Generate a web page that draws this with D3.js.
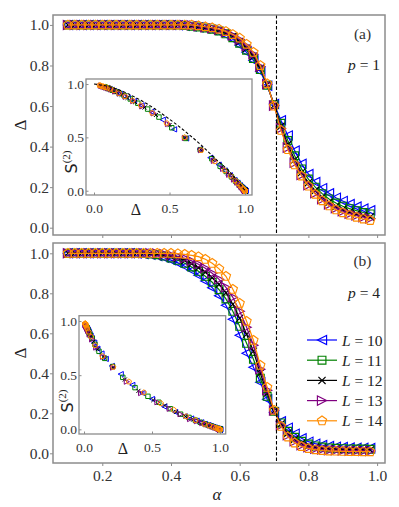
<!DOCTYPE html>
<html><head><meta charset="utf-8">
<script src="https://cdn.jsdelivr.net/npm/d3@7"></script>
<style>body{margin:0;background:#fff}svg{display:block}</style>
</head><body>
<svg id="c" width="399" height="507"></svg>
<script>
// ---------------- DATA ----------------
const alpha = [0.10,0.12,0.14,0.16,0.18,0.20,0.22,0.24,0.26,0.28,0.30,0.32,0.34,0.36,0.38,0.40,0.42,0.44,0.46,0.48,0.50,0.52,0.54,0.56,0.58,0.60,0.62,0.64,0.66,0.68,0.70,0.72,0.74,0.76,0.78,0.80,0.82,0.84,0.86,0.88,0.90,0.92,0.94,0.96,0.98];
const sizes = ["L = 10","L = 11","L = 12","L = 13","L = 14"];
const alphaC = 0.7071;

// panel (a), p = 1 : Delta(alpha)
const deltaA_L10 = [1,1,1,1,1,1,1,1,1,1,1,1,1,1,1,1,0.998,0.996,0.993,0.988,0.982,0.975,0.965,0.95,0.93,0.90,0.865,0.825,0.77,0.70,0.61,0.53,0.455,0.38,0.315,0.265,0.225,0.195,0.17,0.148,0.132,0.117,0.104,0.094,0.086];
const deltaA_L11 = [1,1,1,1,1,1,1,1,1,1,1,1,1,1,1,1,0.999,0.997,0.994,0.99,0.985,0.979,0.97,0.956,0.937,0.91,0.875,0.835,0.78,0.703,0.607,0.515,0.43,0.355,0.29,0.24,0.20,0.168,0.142,0.122,0.106,0.094,0.084,0.075,0.068];
const deltaA_L12 = [1,1,1,1,1,1,1,1,1,1,1,1,1,1,1,1,1,0.998,0.996,0.992,0.987,0.982,0.973,0.96,0.943,0.918,0.885,0.845,0.787,0.706,0.604,0.50,0.41,0.335,0.272,0.222,0.183,0.15,0.125,0.105,0.09,0.078,0.068,0.06,0.053];
const deltaA_L13 = [1,1,1,1,1,1,1,1,1,1,1,1,1,1,1,1,1,1,0.998,0.994,0.989,0.984,0.976,0.964,0.948,0.927,0.895,0.855,0.794,0.708,0.602,0.49,0.395,0.32,0.26,0.21,0.17,0.14,0.115,0.096,0.081,0.069,0.06,0.052,0.045];
const deltaA_L14 = [1,1,1,1,1,1,1,1,1,1,1,1,1,1,1,1,1,1,1,0.996,0.991,0.986,0.979,0.968,0.953,0.935,0.905,0.865,0.80,0.71,0.60,0.48,0.385,0.31,0.255,0.205,0.165,0.133,0.108,0.088,0.074,0.062,0.052,0.043,0.036];
// inset (a): S(2) for each point
const s2A_L10 = [0,0,0,0,0,0,0,0,0,0,0,0,0,0,0,0,0.003,0.006,0.01,0.018,0.027,0.037,0.052,0.075,0.10,0.145,0.19,0.245,0.31,0.39,0.49,0.575,0.665,0.74,0.80,0.84,0.87,0.89,0.91,0.925,0.935,0.945,0.952,0.958,0.963];
const s2A_L11 = [0,0,0,0,0,0,0,0,0,0,0,0,0,0,0,0,0.002,0.005,0.009,0.015,0.022,0.031,0.045,0.066,0.09,0.13,0.18,0.23,0.30,0.385,0.49,0.59,0.69,0.765,0.82,0.86,0.89,0.912,0.93,0.942,0.952,0.959,0.965,0.97,0.973];
const s2A_L12 = [0,0,0,0,0,0,0,0,0,0,0,0,0,0,0,0,0,0.003,0.006,0.012,0.019,0.027,0.04,0.06,0.085,0.12,0.165,0.22,0.29,0.385,0.495,0.615,0.71,0.78,0.83,0.87,0.9,0.925,0.94,0.953,0.96,0.967,0.972,0.976,0.98];
const s2A_L13 = [0,0,0,0,0,0,0,0,0,0,0,0,0,0,0,0,0,0,0.003,0.009,0.016,0.024,0.035,0.053,0.077,0.105,0.15,0.205,0.28,0.38,0.495,0.625,0.725,0.79,0.84,0.88,0.91,0.93,0.948,0.958,0.966,0.973,0.977,0.981,0.985];
const s2A_L14 = [0,0,0,0,0,0,0,0,0,0,0,0,0,0,0,0,0,0,0,0.006,0.013,0.02,0.031,0.047,0.07,0.095,0.14,0.19,0.275,0.38,0.50,0.635,0.73,0.80,0.845,0.885,0.915,0.94,0.955,0.965,0.97,0.976,0.98,0.985,0.988];
// inset (a) dashed reference curve
const theoryDelta = [0,0.1,0.2,0.3,0.4,0.5,0.6,0.7,0.8,0.9,1.0];
const theoryS2 = [1,0.975,0.925,0.855,0.77,0.67,0.56,0.44,0.305,0.175,0.0];

// panel (b), p = 4 : Delta(alpha)
const deltaB_L10 = [1,1,1,1,1,1,1,1,1,1,0.999,0.997,0.993,0.987,0.978,0.966,0.952,0.935,0.915,0.89,0.862,0.828,0.788,0.74,0.67,0.59,0.50,0.43,0.355,0.27,0.205,0.16,0.128,0.098,0.075,0.058,0.048,0.041,0.036,0.033,0.031,0.029,0.028,0.027,0.026];
const deltaB_L11 = [1,1,1,1,1,1,1,1,1,1,1,0.999,0.997,0.993,0.986,0.977,0.965,0.95,0.932,0.91,0.885,0.855,0.818,0.772,0.71,0.635,0.55,0.47,0.375,0.285,0.21,0.152,0.11,0.08,0.06,0.046,0.037,0.031,0.027,0.025,0.023,0.022,0.021,0.021,0.02];
const deltaB_L12 = [1,1,1,1,1,1,1,1,1,1,1,1,0.999,0.997,0.992,0.985,0.976,0.964,0.948,0.928,0.905,0.878,0.845,0.803,0.745,0.675,0.595,0.51,0.40,0.30,0.212,0.147,0.10,0.07,0.05,0.038,0.03,0.025,0.022,0.02,0.018,0.017,0.017,0.016,0.016];
const deltaB_L13 = [1,1,1,1,1,1,1,1,1,1,1,1,1,0.999,0.996,0.991,0.984,0.975,0.962,0.945,0.925,0.90,0.87,0.83,0.78,0.71,0.63,0.54,0.42,0.315,0.214,0.14,0.09,0.06,0.041,0.03,0.023,0.019,0.016,0.015,0.014,0.013,0.013,0.012,0.012];
const deltaB_L14 = [1,1,1,1,1,1,1,1,1,1,1,1,1,1,1,1,0.998,0.995,0.99,0.983,0.97,0.95,0.922,0.885,0.82,0.75,0.66,0.565,0.44,0.33,0.215,0.135,0.082,0.052,0.034,0.024,0.018,0.014,0.012,0.011,0.01,0.009,0.009,0.008,0.008];
// inset (b)
const s2B_L10 = [0,0,0,0,0,0,0,0,0,0,0.001,0.002,0.004,0.006,0.01,0.016,0.022,0.03,0.04,0.05,0.065,0.08,0.1,0.12,0.16,0.21,0.28,0.335,0.41,0.51,0.585,0.65,0.7,0.745,0.80,0.84,0.865,0.88,0.893,0.90,0.906,0.912,0.915,0.918,0.92];
const s2B_L11 = [0,0,0,0,0,0,0,0,0,0,0,0.001,0.002,0.004,0.007,0.011,0.016,0.022,0.031,0.04,0.052,0.065,0.085,0.11,0.14,0.19,0.25,0.305,0.385,0.48,0.58,0.655,0.72,0.785,0.84,0.87,0.89,0.907,0.918,0.925,0.93,0.934,0.937,0.937,0.94];
const s2B_L12 = [0,0,0,0,0,0,0,0,0,0,0,0,0.001,0.002,0.004,0.007,0.011,0.016,0.024,0.033,0.043,0.055,0.07,0.09,0.12,0.16,0.22,0.27,0.355,0.46,0.575,0.665,0.74,0.81,0.86,0.885,0.91,0.925,0.934,0.94,0.946,0.949,0.949,0.952,0.952];
const s2B_L13 = [0,0,0,0,0,0,0,0,0,0,0,0,0,0.001,0.003,0.005,0.008,0.012,0.017,0.025,0.035,0.045,0.058,0.075,0.095,0.14,0.19,0.25,0.335,0.44,0.57,0.67,0.755,0.83,0.875,0.91,0.93,0.943,0.952,0.955,0.958,0.961,0.961,0.964,0.964];
const s2B_L14 = [0,0,0,0,0,0,0,0,0,0,0,0,0,0,0,0,0.001,0.002,0.004,0.007,0.013,0.022,0.035,0.05,0.085,0.12,0.18,0.24,0.34,0.44,0.575,0.675,0.775,0.855,0.9,0.93,0.946,0.958,0.964,0.967,0.97,0.973,0.973,0.976,0.976];

const xTicks = [0.2,0.4,0.6,0.8,1.0];
const yTicks = [0.0,0.2,0.4,0.6,0.8,1.0];
const insetTicks = [0.0,0.5,1.0];

// ---------------- STYLE ----------------
const colors = ["#0000ff","#008000","#000000","#800080","#ff8c00"];
const markers = ["tl","sq","x","tr","pent"];
const SERIF = '"Liberation Serif","DejaVu Serif",serif';
const FRAME = "#8c8c8c";
const TXT = "#333";

function markerPath(t, r) {
  switch (t) {
    case "tl": return `M${-r},0L${r},${-r}L${r},${r}Z`;
    case "tr": return `M${r},0L${-r},${-r}L${-r},${r}Z`;
    case "sq": { const s = r*0.85; return `M${-s},${-s}H${s}V${s}H${-s}Z`; }
    case "x": { const s = r*0.78; return `M${-s},${-s}L${s},${s}M${-s},${s}L${s},${-s}`; }
    case "pent": {
      const R = r*1.05; let p = "";
      for (let k = 0; k < 5; k++) {
        const a = -Math.PI/2 + k*2*Math.PI/5;
        p += (k ? "L" : "M") + (R*Math.cos(a)).toFixed(2) + "," + (R*Math.sin(a)).toFixed(2);
      }
      return p + "Z";
    }
  }
}

const svg = d3.select("#c");
svg.append("rect").attr("width",399).attr("height",507).attr("fill","#fff");

const x = d3.scaleLinear().domain([0.0565,1.023]).range([53,385]);

const panels = [
  { top:15, bottom:235, ydom:[-0.036,1.049], deltas:[deltaA_L10,deltaA_L11,deltaA_L12,deltaA_L13,deltaA_L14],
    s2:[s2A_L10,s2A_L11,s2A_L12,s2A_L13,s2A_L14], tag:"(a)", p:"1", showX:false,
    inset:{l:86,r:252,t:79,b:195,xd:[-0.053,1.046],yd:[-0.040,1.047],theory:true, sx:72, sy:162, dx:136},
    tagY:39, pY:70 },
  { top:243, bottom:463, ydom:[-0.0485,1.0515], deltas:[deltaB_L10,deltaB_L11,deltaB_L12,deltaB_L13,deltaB_L14],
    s2:[s2B_L10,s2B_L11,s2B_L12,s2B_L13,s2B_L14], tag:"(b)", p:"4", showX:true,
    inset:{l:79,r:225.7,t:315.7,b:434,xd:[-0.037,1.042],yd:[-0.043,1.049],theory:false, sx:68, sy:401, dx:123},
    tagY:266, pY:298, legend:true }
];

panels.forEach(P => {
  const y = d3.scaleLinear().domain(P.ydom).range([P.bottom, P.top]);
  const g = svg.append("g");
  const clipId = "clip" + P.top;
  svg.append("clipPath").attr("id", clipId).append("rect")
    .attr("x",53).attr("y",P.top).attr("width",332).attr("height",P.bottom-P.top);

  const plot = g.append("g").attr("clip-path", `url(#${clipId})`);
  const line = d3.line().x((d,i)=>x(alpha[i])).y(d=>y(d));
  P.deltas.forEach((arr, k) => {
    plot.append("path").datum(arr).attr("d", line)
      .attr("fill","none").attr("stroke",colors[k]).attr("stroke-width",1.2);
    plot.selectAll(null).data(arr).enter().append("path")
      .attr("transform",(d,i)=>`translate(${x(alpha[i])},${y(d)})`)
      .attr("d", markerPath(markers[k], 4.6))
      .attr("fill","none").attr("stroke",colors[k]).attr("stroke-width",1.15);
  });
  // critical line
  plot.append("line").attr("x1",x(alphaC)).attr("x2",x(alphaC))
    .attr("y1",P.top).attr("y2",P.bottom)
    .attr("stroke","#000").attr("stroke-width",1.1).attr("stroke-dasharray","3.5,2");

  // axes
  const ax = g.append("g").attr("transform",`translate(0,${P.bottom})`)
    .call(d3.axisBottom(x).tickValues(xTicks).tickSize(3).tickSizeOuter(0).tickPadding(4)
      .tickFormat(P.showX ? d3.format(".1f") : ""));
  const ay = g.append("g").attr("transform",`translate(53,0)`)
    .call(d3.axisLeft(y).tickValues(yTicks).tickSize(3).tickSizeOuter(0).tickPadding(1)
      .tickFormat(d3.format(".1f")));
  [ax, ay].forEach(a => {
    a.select(".domain").remove();
    a.selectAll("line").attr("stroke",FRAME).attr("stroke-width",1);
    a.selectAll("text").attr("font-family",SERIF).attr("font-size",15.5).attr("fill",TXT);
  });
  g.append("rect").attr("x",53).attr("y",P.top).attr("width",332).attr("height",P.bottom-P.top)
    .attr("fill","none").attr("stroke",FRAME).attr("stroke-width",1.5);

  // y label
  g.append("text").attr("transform",`translate(26,${(P.top+P.bottom)/2}) rotate(-90)`)
    .attr("text-anchor","middle").attr("font-family",SERIF).attr("font-size",17).attr("fill","#222").text("Δ");

  // tag and p
  g.append("text").attr("x",362.5).attr("y",P.tagY).attr("text-anchor","middle")
    .attr("font-family",SERIF).attr("font-size",15.5).attr("fill",TXT).text(P.tag);
  const pt = g.append("text").attr("x",380).attr("y",P.pY).attr("text-anchor","end")
    .attr("font-family",SERIF).attr("font-size",15.5).attr("fill","#222");
  pt.append("tspan").attr("font-style","italic").text("p");
  pt.append("tspan").text(" = " + P.p);

  // inset
  const I = P.inset;
  const ix = d3.scaleLinear().domain(I.xd).range([I.l, I.r]);
  const iy = d3.scaleLinear().domain(I.yd).range([I.b, I.t]);
  const ig = svg.append("g");
  ig.append("rect").attr("x",I.l).attr("y",I.t).attr("width",I.r-I.l).attr("height",I.b-I.t).attr("fill","#fff");
  const iclip = "iclip" + P.top;
  svg.append("clipPath").attr("id", iclip).append("rect")
    .attr("x",I.l).attr("y",I.t).attr("width",I.r-I.l).attr("height",I.b-I.t);
  const ip = ig.append("g").attr("clip-path",`url(#${iclip})`);
  P.deltas.forEach((arr, k) => {
    ip.selectAll(null).data(arr).enter().append("path")
      .attr("transform",(d,i)=>`translate(${ix(d)},${iy(P.s2[k][i])})`)
      .attr("d", markerPath(markers[k], 2.6))
      .attr("fill","none").attr("stroke",colors[k]).attr("stroke-width",1);
  });
  if (I.theory) {
    ip.append("path").datum(theoryDelta)
      .attr("d", d3.line().x(d=>ix(d)).y((d,i)=>iy(theoryS2[i])).curve(d3.curveMonotoneX))
      .attr("fill","none").attr("stroke","#000").attr("stroke-width",1.1).attr("stroke-dasharray","3,2");
  }
  const iax = ig.append("g").attr("transform",`translate(0,${I.b})`)
    .call(d3.axisBottom(ix).tickValues(insetTicks).tickSize(-2.5).tickSizeOuter(0).tickPadding(8).tickFormat(d3.format(".1f")));
  const iay = ig.append("g").attr("transform",`translate(${I.l},0)`)
    .call(d3.axisLeft(iy).tickValues(insetTicks).tickSize(-2.5).tickSizeOuter(0).tickPadding(2).tickFormat(d3.format(".1f")));
  [iax, iay].forEach(a => {
    a.select(".domain").remove();
    a.selectAll("line").attr("stroke",FRAME).attr("stroke-width",1);
    a.selectAll("text").attr("font-family",SERIF).attr("font-size",13.5).attr("fill",TXT);
  });
  ig.append("rect").attr("x",I.l).attr("y",I.t).attr("width",I.r-I.l).attr("height",I.b-I.t)
    .attr("fill","none").attr("stroke",FRAME).attr("stroke-width",1.3);
  // inset labels
  ig.append("text").attr("x", I.dx).attr("y", I.b + 20)
    .attr("text-anchor","middle").attr("font-family",SERIF).attr("font-size",16).attr("fill","#222").text("Δ");
  const st = ig.append("text").attr("transform",`translate(${I.sx+5},${I.sy}) rotate(-90)`)
    .attr("text-anchor","middle").attr("fill","#222");
  st.append("tspan").attr("font-family",'"DejaVu Sans",sans-serif').attr("font-size",16).text("S");
  st.append("tspan").attr("font-family",SERIF).attr("font-size",11).attr("dy",-7).text("(2)");

  if (P.showX) {
    svg.append("text").attr("x",217).attr("y",500).attr("text-anchor","middle")
      .attr("font-family",SERIF).attr("font-style","italic").attr("font-size",17).attr("fill","#222").text("α");
  }
  if (P.legend) {
    const lg = svg.append("g");
    sizes.forEach((lab, k) => {
      const cy = 340 + k*20.2;
      lg.append("line").attr("x1",307).attr("x2",337).attr("y1",cy).attr("y2",cy)
        .attr("stroke",colors[k]).attr("stroke-width",1.2);
      lg.append("path").attr("transform",`translate(322,${cy})`).attr("d",markerPath(markers[k],4.6))
        .attr("fill","none").attr("stroke",colors[k]).attr("stroke-width",1.15);
      const t = lg.append("text").attr("x",342).attr("y",cy+5.5)
        .attr("font-family",SERIF).attr("font-size",15.5).attr("fill","#222");
      t.append("tspan").attr("font-style","italic").text("L");
      t.append("tspan").text(lab.slice(1));
    });
  }
});
</script>
</body></html>
